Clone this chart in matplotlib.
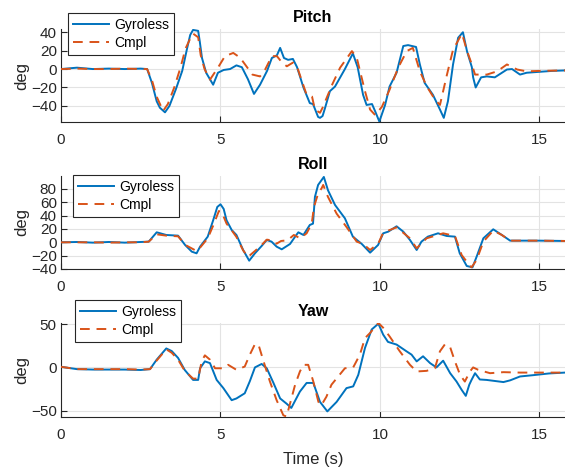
import matplotlib
matplotlib.use("Agg")
import matplotlib.pyplot as plt

plt.rcParams['font.family'] = ['Liberation Sans', 'DejaVu Sans']

# ---------------- data ----------------
pitch_gyro_t = [0, 0.5, 1.0, 1.5, 2.0, 2.5, 2.7, 2.85, 3.0, 3.1, 3.26, 3.4, 3.6, 3.8, 3.95, 4.05, 4.14, 4.3, 4.35, 4.42, 4.55, 4.77, 4.92, 5.1, 5.3, 5.5, 5.67, 5.86, 6.05, 6.24, 6.46, 6.61, 6.77, 6.87, 6.99, 7.12, 7.27, 7.4, 7.6, 7.8, 7.9, 8.06, 8.12, 8.2, 8.28, 8.43, 8.59, 8.9, 9.15, 9.3, 9.47, 9.58, 9.75, 9.85, 9.98, 10.16, 10.3, 10.52, 10.73, 10.88, 11.13, 11.25, 11.4, 11.66, 11.88, 12.0, 12.13, 12.29, 12.45, 12.6, 12.73, 12.88, 12.92, 13.0, 13.17, 13.35, 13.6, 13.98, 14.14, 14.39, 14.6, 15.0, 15.4, 15.8]
pitch_gyro_v = [0, 1.5, 0, 0.5, 0, 0.5, 0, -15, -35, -42, -47, -40, -22, -2, 22, 37, 42.5, 41.5, 30, 12, -4, -17, -4, -1, 0, 4, 2, -11, -27, -17, -2, 12, 15, 23, 12, 10, 11, 2, -20, -37, -38, -52, -53, -51, -42, -24, -19, 0, 17, 2, -28, -39, -38, -46, -57, -39, -19, -4, 25, 26, 24, 5, -15, -28, -44, -53, -35, 5, 34, 40, 19, 2, -9, -20, -9, -8, -9, -0.5, 0, -6, -4, -3, -2, -1.5]
pitch_cmpl_t = [0, 0.5, 1.0, 1.5, 2.0, 2.5, 2.7, 2.85, 3.0, 3.2, 3.35, 3.55, 3.75, 3.9, 4.05, 4.14, 4.3, 4.38, 4.5, 4.67, 4.92, 5.14, 5.4, 5.61, 5.77, 6.0, 6.24, 6.4, 6.61, 6.77, 6.93, 7.08, 7.27, 7.43, 7.7, 7.87, 7.96, 8.12, 8.2, 8.5, 8.75, 9.12, 9.27, 9.53, 9.69, 9.85, 10.06, 10.3, 10.57, 10.84, 11.03, 11.25, 11.47, 11.72, 11.88, 12.1, 12.29, 12.57, 12.73, 12.88, 12.98, 13.35, 13.67, 13.98, 14.3, 14.6, 15.0, 15.8]
pitch_cmpl_v = [0, 0.5, 0, 0, 0.5, 0, 0, -12, -30, -45.5, -38, -20, 2, 22, 33, 38.5, 34.5, 15, 0, -11.5, 1.5, 14, 17.5, 12.5, 5, -6, -8, -0.5, 14, 14, 7, 3, 7, -0.5, -28, -30, -44, -47.5, -42, -17, 1.5, 19.5, 12.5, -24, -44, -50, -41, -22.5, 1.5, 19.5, 23, -2.5, -19, -33, -39, -6, 21, 38.5, 19.5, 5, -6, -6, -2.5, 5, -0.5, -2.5, -2, -1.5]

roll_gyro_t = [0, 0.5, 1.0, 1.5, 2.0, 2.5, 2.75, 3.0, 3.3, 3.67, 3.89, 4.1, 4.25, 4.36, 4.6, 4.77, 4.9, 5.0, 5.1, 5.19, 5.35, 5.5, 5.71, 5.9, 6.08, 6.29, 6.45, 6.6, 6.76, 6.92, 7.18, 7.34, 7.44, 7.6, 7.8, 7.9, 7.96, 8.06, 8.24, 8.37, 8.59, 8.9, 9.15, 9.43, 9.69, 9.94, 10.1, 10.26, 10.52, 10.73, 10.94, 11.15, 11.3, 11.5, 11.82, 12.09, 12.35, 12.5, 12.72, 12.9, 13.03, 13.24, 13.55, 13.82, 14.08, 14.4, 15.0, 15.8]
roll_gyro_v = [0, 0.5, -0.5, 0.5, -0.5, 0.5, 1, 15, 11, 10, -4, -14, -16.5, -6.5, 8.5, 33, 53, 57, 50, 33, 18.5, 11, -11.5, -27.5, -16.5, -5.5, 3.5, 1, -6.5, -10.5, -2.5, 8.5, 15, 11, 26, 28, 68, 86, 98, 78, 56, 36, 8.5, -2.5, -15.5, -4, 13.5, 16, 24, 16, 3.5, -11.5, 1, 8.5, 13.5, 9.5, 8.5, -16.5, -35.5, -37.5, -21.5, 6, 19.5, 11, 2.5, 2.5, 2.5, 2]
roll_cmpl_t = [0, 0.5, 1.0, 1.5, 2.0, 2.5, 2.75, 3.0, 3.3, 3.67, 3.9, 4.25, 4.36, 4.6, 4.77, 4.95, 5.05, 5.19, 5.35, 5.5, 5.71, 5.86, 6.08, 6.29, 6.45, 6.6, 6.76, 6.9, 7.1, 7.3, 7.5, 7.7, 7.86, 7.93, 8.06, 8.17, 8.22, 8.37, 8.64, 8.95, 9.27, 9.47, 9.69, 9.95, 10.1, 10.52, 10.94, 11.15, 11.46, 11.98, 12.35, 12.56, 12.72, 12.87, 13.03, 13.24, 13.55, 13.82, 14.08, 14.4, 15.0, 15.8]
roll_cmpl_v = [0, 0, 0, -0.5, 0, 0, 1, 12, 10, 9, -4, -13, -8, 6, 25, 47, 44, 28, 18, 8, -12, -22, -13, -4, 4, 3, -2, 2, 3, 11, 6, 13.5, 28, 53, 73, 81, 86, 68, 43, 23, 1, -2.5, -11.5, -1.5, 14.5, 22.5, 6, -9, 6, 13.5, 9.5, -19, -29, -37.5, -26.5, 1, 17.5, 11, 2.5, 2.5, 2.5, 2]

yaw_gyro_t = [0, 0.5, 1.0, 1.5, 2.0, 2.5, 2.79, 3.0, 3.3, 3.47, 3.67, 3.88, 4.14, 4.3, 4.36, 4.51, 4.67, 4.88, 5.09, 5.35, 5.5, 5.76, 5.92, 6.08, 6.29, 6.45, 6.66, 6.87, 7.07, 7.22, 7.49, 7.7, 7.91, 8.12, 8.35, 8.64, 8.95, 9.16, 9.32, 9.53, 9.74, 9.95, 10.1, 10.25, 10.52, 10.83, 10.99, 11.15, 11.35, 11.57, 11.77, 11.98, 12.2, 12.4, 12.56, 12.69, 12.8, 12.87, 12.98, 13.13, 13.34, 13.87, 14.08, 14.39, 14.8, 15.3, 15.8]
yaw_gyro_v = [0.7, -2, -2.5, -2.5, -2.5, -3, -2, 9, 22, 19, 11, -3, -14.5, -14.5, -1, 7, 5, -14.5, -24, -38, -36, -30, -16, 0, 4, -1, -18, -36, -42, -47, -28, -18, -18, -40, -51, -40, -24, -22, -8.6, 22.6, 44, 50.7, 38, 29.6, 26.5, 18.7, 14.8, 7, 12.9, 5, 0, 7.8, -6.7, -16.4, -26, -33, -20, -14.5, -6.7, -14, -14.5, -17, -15, -10.5, -9, -7, -6]
yaw_cmpl_t = [0, 0.5, 1.0, 1.5, 2.0, 2.5, 2.79, 3.0, 3.3, 3.47, 3.67, 3.88, 4.14, 4.3, 4.41, 4.51, 4.67, 4.83, 5.09, 5.24, 5.5, 5.76, 5.92, 6.08, 6.19, 6.35, 6.55, 6.76, 6.97, 7.07, 7.18, 7.34, 7.49, 7.6, 7.75, 7.91, 8.07, 8.16, 8.32, 8.48, 8.69, 8.9, 9.16, 9.37, 9.53, 9.69, 9.95, 10.1, 10.3, 10.62, 10.94, 11.15, 11.46, 11.72, 11.88, 12.04, 12.2, 12.35, 12.51, 12.66, 12.82, 12.92, 13.08, 13.45, 13.87, 14.39, 15.8]
yaw_cmpl_v = [0.7, -2, -2, -2, -2, -2.5, -2, 8, 21, 17, 9, -4, -13, -13, 7, 14, 9, -1, -1, 3, -2.8, 1, 14.8, 27, 26.5, 7, -16.4, -38, -55.5, -57, -42, -20, -4.7, 3, 3, -16.4, -40, -44, -34, -20, -10.5, -1, 0, 14.8, 34, 40, 51.5, 46, 36, 18.7, 3, -4.7, -4, -1, 18.7, 27, 23.4, 7, -8.6, -16.4, -4.7, 0, -2.8, -6.7, -5.5, -6, -6]

titles = ["Pitch", "Roll", "Yaw"]
series_labels = ["Gyroless", "Cmpl"]
ylims = [(-57.5, 43.5), (-40, 99.4), (-57.5, 51.5)]
yticks = [[-40, -20, 0, 20, 40], [-40, -20, 0, 20, 40, 60, 80], [-50, 0, 50]]
xticks = [0, 5, 10, 15]

# ---------------- figure ----------------
W, H = 565, 467
fig = plt.figure(figsize=(W / 100, H / 100), dpi=100)

ax_px = [(29, 122), (176, 269), (323, 417)]
leg_px = [(68, 13), (73, 175), (75, 300)]
blue = '#0072BD'
orange = '#D95319'
axc = '#262626'

data = [
    (pitch_gyro_t, pitch_gyro_v, pitch_cmpl_t, pitch_cmpl_v),
    (roll_gyro_t, roll_gyro_v, roll_cmpl_t, roll_cmpl_v),
    (yaw_gyro_t, yaw_gyro_v, yaw_cmpl_t, yaw_cmpl_v),
]

for i in range(3):
    top, bot = ax_px[i]
    ax = fig.add_axes([61 / W, 1 - bot / H, (W - 61) / W, (bot - top) / H])
    gt, gv, ct, cv = data[i]
    ax.plot(gt, gv, color=blue, lw=1.4, label=series_labels[0], zorder=3)
    ax.plot(ct, cv, color=orange, lw=1.4, dashes=(5, 3.5), label=series_labels[1], zorder=3)
    ax.set_xlim(0, 15.8)
    ax.set_ylim(*ylims[i])
    ax.set_xticks(xticks)
    ax.set_yticks(yticks[i])
    ax.grid(True, color='#e3e3e3', lw=0.8)
    ax.set_axisbelow(True)
    for s in ['top', 'right']:
        ax.spines[s].set_visible(False)
    for s in ['left', 'bottom']:
        ax.spines[s].set_color(axc)
        ax.spines[s].set_linewidth(0.8)
    ax.tick_params(direction='in', length=4, width=0.8, colors=axc, labelsize=11,
                   labelcolor=axc)
    ax.tick_params(axis='x', pad=8)
    ax.tick_params(axis='y', pad=3)
    ax.set_ylabel('deg', fontsize=12, color=axc, labelpad=1)
    ax.set_title(titles[i], fontsize=11.5, fontweight='bold', color='black', pad=5)
    lx, ly = leg_px[i]
    leg = ax.legend(loc='upper left', bbox_to_anchor=(lx / W, 1 - ly / H),
                    bbox_transform=fig.transFigure, borderaxespad=0, fontsize=10,
                    fancybox=False, framealpha=1, edgecolor='#262626',
                    handlelength=2.6, handletextpad=0.35, labelspacing=0.3,
                    borderpad=0.35)
    leg.get_frame().set_linewidth(0.8)
    leg.set_zorder(5)
    if i == 2:
        ax.set_xlabel('Time (s)', fontsize=12, color=axc, labelpad=7)

fig.savefig('out.png', dpi=100)
